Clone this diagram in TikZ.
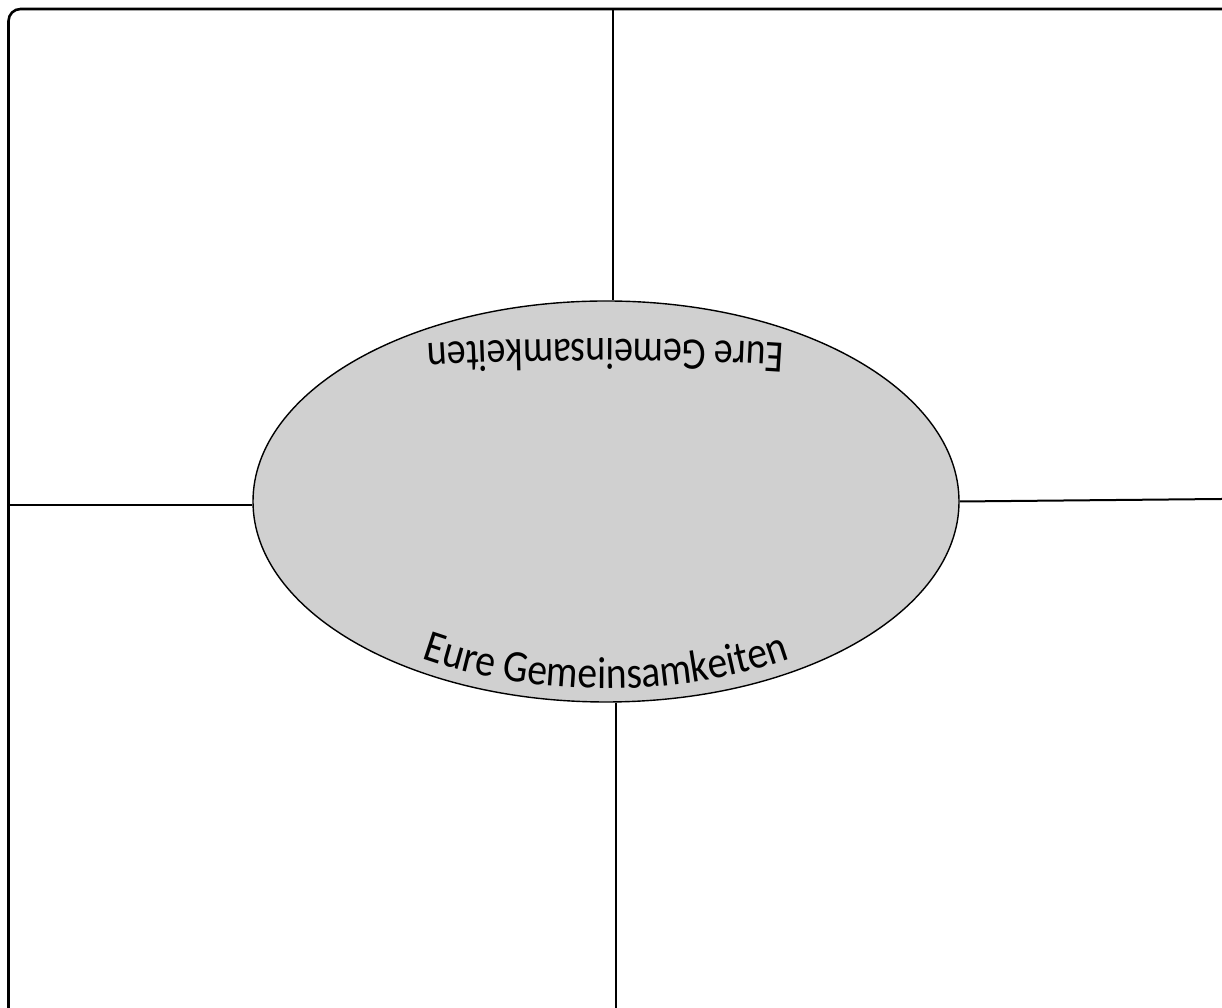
\documentclass[tikz,border=0pt]{standalone}
\usepackage{fontspec}
\setmainfont{Carlito}
\newfontfamily\arcfontb[FakeStretch=0.88]{Carlito}
\newfontfamily\arcfontt[FakeStretch=0.84]{Carlito}
\usetikzlibrary{shapes.geometric,decorations.text}
\definecolor{ellfill}{RGB}{208,208,208}
\begin{document}
\begin{tikzpicture}[x=1pt,y=1pt,
  frame/.style={line width=2.6pt, rounded corners=12pt},
  divider/.style={line width=2pt},
  centreell/.style={ellipse, draw, line width=1.4pt, fill=ellfill, minimum width=706pt, minimum height=401pt, inner sep=0pt},
  arctext/.style={decorate, decoration={text along path, text align=center, text={|#1\fontsize{45}{45}\selectfont|Eure Gemeinsamkeiten}}}]
\useasboundingbox (0,0) rectangle (1222,1008);
\clip (0,0) rectangle (1222,1008);
\draw[frame] (8.5,-40) rectangle (1260,999);
\coordinate (tp) at (613,999);
\coordinate (bt) at (616,0);
\coordinate (lf) at (8.5,502.5);
\coordinate (rt) at (1222,509);
\node[centreell] (ell) at (606,506.5) {};
\draw[divider] (tp) -- (tp |- ell.north);
\draw[divider] (ell.south -| bt) -- (bt);
\draw[divider] (lf) -- (lf -| ell.west);
\draw[divider] (ell.east) -- (rt);
\path[arctext=\arcfontb] (606,506.5) ++(190:340 and 187) arc[start angle=190, end angle=350, x radius=340, y radius=187];
\path[arctext=\arcfontt] (800,663) .. controls (700,671) and (512,671) .. (412,663);
\end{tikzpicture}
\end{document}
